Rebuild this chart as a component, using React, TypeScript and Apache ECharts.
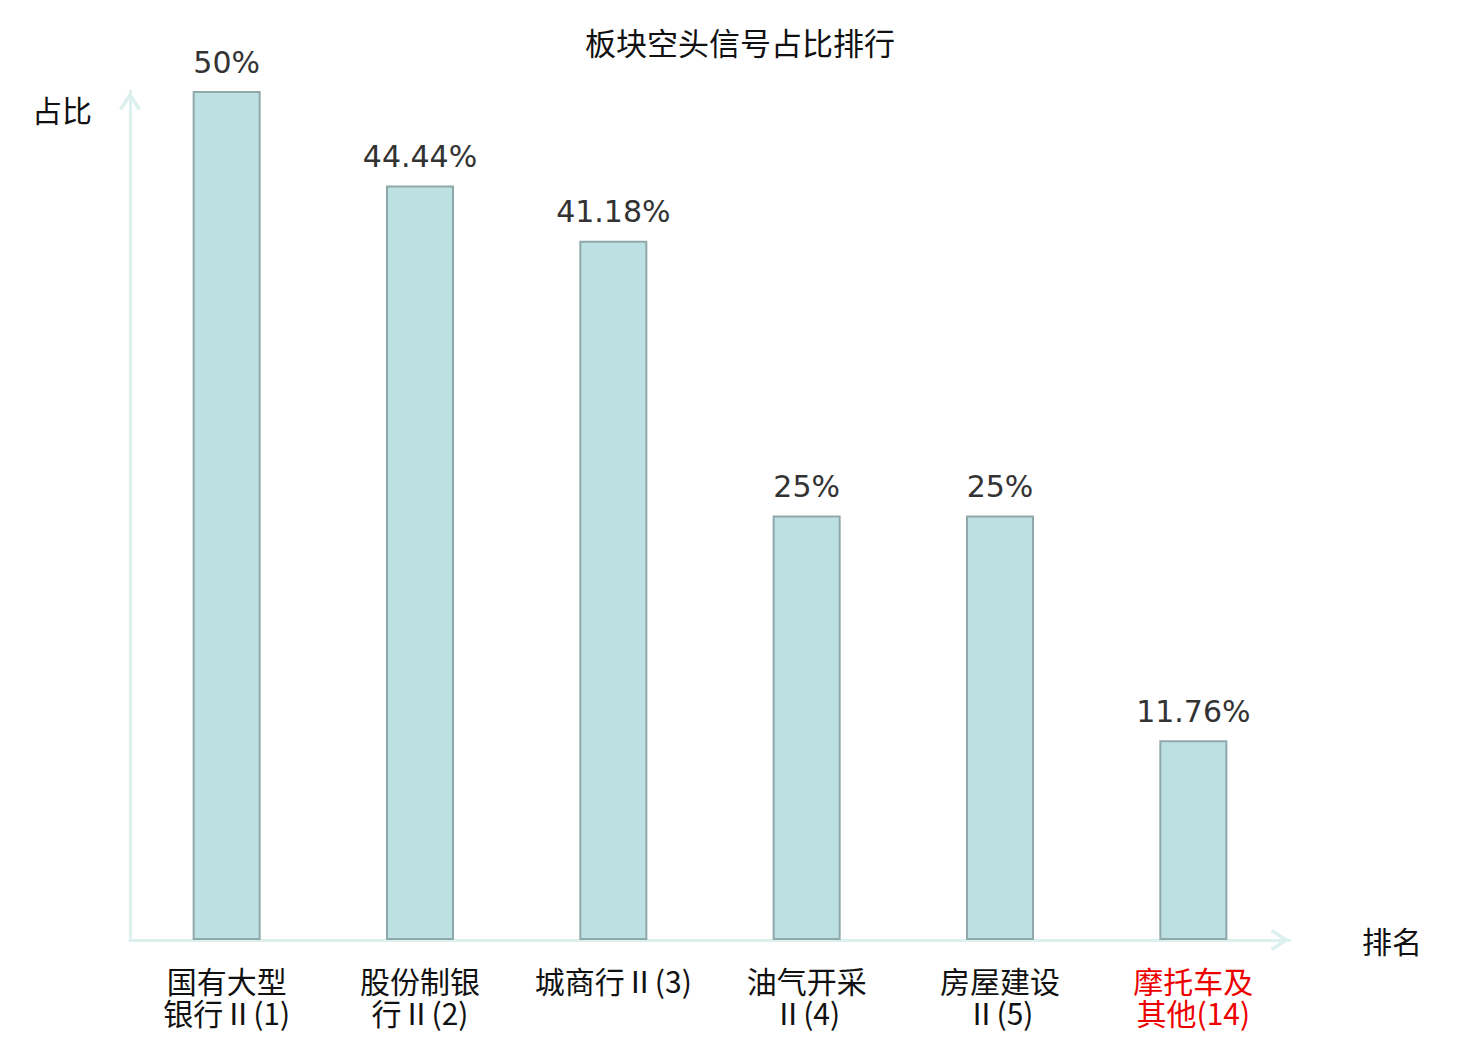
import React, { useEffect, useRef } from "react";
import * as echarts from "echarts";

const titleText = "板块空头信号占比排行";
const categories = [
  "国有大型\n银行Ⅱ(1)",
  "股份制银\n行Ⅱ(2)",
  "城商行Ⅱ(3)",
  "油气开采\nⅡ(4)",
  "房屋建设\nⅡ(5)",
  "摩托车及\n其他(14)",
];
const highlighted = [false, false, false, false, false, true];
const ratios = [50, 44.44, 41.18, 25, 25, 11.76];
const yName = "占比";
const xName = "排名";

const chevron = "path://M11,0 L22,17 L19,19 L11,6.5 L3,19 L0,17 Z";

export default function App() {
  const ref = useRef<HTMLDivElement>(null);
  useEffect(() => {
    if (!ref.current) return;
    const chart = echarts.init(ref.current, null, { renderer: "svg" });
    const axisColor = "#dcf0ee";
    chart.setOption({
      animation: false,
      backgroundColor: "#ffffff",
      title: {
        text: titleText,
        left: "center",
        top: 21,
        textStyle: {
          fontFamily: "Noto Sans CJK SC",
          fontSize: 31,
          fontWeight: "normal",
          color: "#111111",
        },
      },
      grid: { left: 130, right: 190, top: 91, bottom: 100 },
      xAxis: {
        type: "category",
        data: categories.map((c, i) =>
          highlighted[i] ? { value: c, textStyle: { color: "#ee0000" } } : c
        ),
        name: xName,
        nameLocation: "end",
        nameGap: 72,
        nameTextStyle: {
          fontFamily: "Noto Sans CJK SC",
          fontSize: 30,
          color: "#111111",
        },
        axisLine: {
          show: true,
          symbol: ["none", chevron],
          symbolSize: [22, 20],
          symbolOffset: [0, -10],
          lineStyle: { color: axisColor, width: 3 },
        },
        axisTick: { show: false },
        axisLabel: {
          interval: 0,
          margin: 24,
          fontFamily: "Noto Sans CJK SC",
          fontSize: 30,
          lineHeight: 32,
          color: "#111111",
        },
        splitLine: { show: false },
      },
      yAxis: {
        type: "value",
        min: 0,
        max: 50,
        name: yName,
        nameLocation: "end",
        nameGap: -18,
        nameTextStyle: {
          fontFamily: "Noto Sans CJK SC",
          fontSize: 30,
          color: "#111111",
          align: "right",
          verticalAlign: "middle",
          padding: [0, 38, 0, 0],
        },
        axisLine: {
          show: true,
          symbol: ["none", chevron],
          symbolSize: [22, 20],
          symbolOffset: [0, -10],
          lineStyle: { color: axisColor, width: 3 },
        },
        axisTick: { show: false },
        axisLabel: { show: false },
        splitLine: { show: false },
      },
      series: [
        {
          type: "bar",
          data: ratios,
          barWidth: 68,
          itemStyle: {
            color: "#bde0e3",
            borderColor: "#8fa8aa",
            borderWidth: 2,
          },
          label: {
            show: true,
            position: "top",
            distance: 14,
            formatter: (p: any) => `${p.value}%`,
            fontFamily: "DejaVu Sans",
            fontSize: 30,
            color: "#333333",
          },
        },
      ],
    });
    return () => chart.dispose();
  }, []);
  return (
    <div
      ref={ref}
      style={{ position: "absolute", left: 0, top: 0, width: 1480, height: 1040 }}
    />
  );
}
